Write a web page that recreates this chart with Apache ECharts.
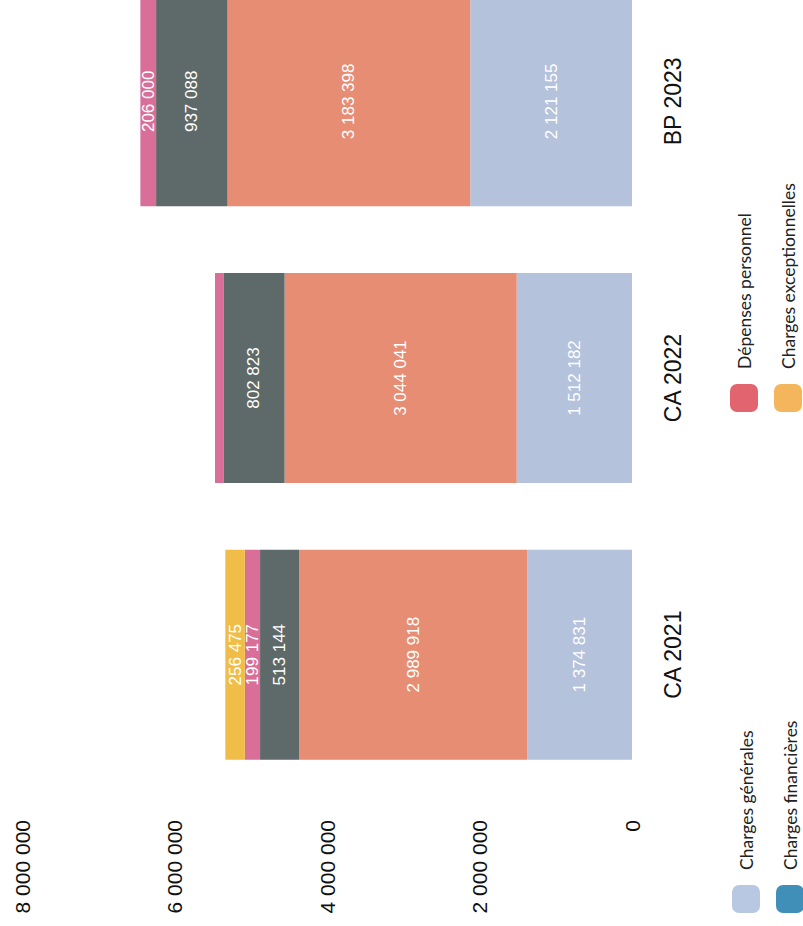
<!DOCTYPE html>
<html lang="fr">
<head>
<meta charset="utf-8">
<title>Dépenses de fonctionnement</title>
<script src="https://cdn.jsdelivr.net/npm/echarts@6/dist/echarts.min.js"></script>
<style>
  html, body { margin: 0; padding: 0; background: #ffffff; }
  #page { position: relative; width: 803px; height: 926px; overflow: hidden; background: #ffffff; }
  /* the chart is laid out landscape and turned a quarter turn anticlockwise */
  #chart {
    position: absolute; left: 0; top: 0;
    width: 926px; height: 803px;
    transform-origin: 0 0;
    transform: translateY(926px) rotate(-90deg);
  }
</style>
</head>
<body>
<div id="page"><div id="chart"></div></div>
<script>
// Exercices
const categories = ['CA 2021', 'CA 2022', 'BP 2023'];

// Montants par chapitre (en euros)
const chargesGenerales       = [1374831, 1512182, 2121155];
const depensesPersonnel      = [2989918, 3044041, 3183398];
const autresCharges          = [513144, 802823, 937088];
const attenuations           = [199177, 110000, 206000];
const attenuationsLabelled   = [true, false, true];
const chargesExceptionnelles = [256475, null, null];
const chargesFinancieres     = [null, null, null];

// Graduations de l'axe des montants
const valueMin = 0;
const valueMax = 8000000;
const valueStep = 2000000;

function fmt(v) {
  return String(Math.round(v)).replace(/\B(?=(\d{3})+(?!\d))/g, ' ');
}

const labelStyle = {
  show: true,
  position: 'inside',
  color: '#ffffff',
  fontFamily: 'Liberation Sans, Arial, sans-serif',
  fontSize: 17,
  formatter: p => (p.value == null ? '' : fmt(p.value))
};

function barSeries(name, values, color, labelled) {
  return {
    name: name,
    type: 'bar',
    stack: 'total',
    barWidth: 210,
    itemStyle: { color: color },
    label: labelStyle,
    data: values.map((v, i) => ({
      value: v,
      label: { show: labelled ? labelled[i] : v != null }
    }))
  };
}

const legendText = {
  color: '#222222',
  fontFamily: 'Lato, "Open Sans", sans-serif',
  fontSize: 17.5,
  padding: [0, 0, 0, 10]
};

// one legend block per entry, two rows of two columns
function legendEntry(name, color, left, top) {
  return {
    orient: 'horizontal', left: left, top: top,
    itemWidth: 28, itemHeight: 28,
    padding: 0,
    textStyle: legendText,
    data: [{ name: name, itemStyle: { color: color } }]
  };
}

const chart = echarts.init(document.getElementById('chart'), null, { renderer: 'svg' });

chart.setOption({
  backgroundColor: '#ffffff',
  animation: false,
  grid: {
    left: 133, top: 22, width: 830, height: 610,
    containLabel: false,
    outerBoundsMode: 'none'
  },
  legend: [
    legendEntry('Charges générales', '#b9c8e2', 13, 732),
    legendEntry('Dépenses personnel', '#e2646e', 514, 730),
    legendEntry('Charges financières', '#3f8fb8', 13, 776),
    legendEntry('Charges exceptionnelles', '#f4b65c', 514, 774)
  ],
  xAxis: {
    type: 'category',
    data: categories,
    axisLine: { show: false },
    axisTick: { show: false },
    axisLabel: {
      margin: 29,
      color: '#111111',
      fontFamily: 'Liberation Sans, Arial, sans-serif',
      fontSize: 23
    }
  },
  yAxis: {
    type: 'value',
    min: valueMin,
    max: valueMax,
    interval: valueStep,
    axisLine: { show: false },
    axisTick: { show: false },
    splitLine: { show: false },
    axisLabel: {
      margin: 27,
      color: '#111111',
      fontFamily: 'Liberation Sans, Arial, sans-serif',
      fontSize: 21,
      formatter: v => fmt(v)
    }
  },
  series: [
    barSeries('Charges générales', chargesGenerales, '#b4c2dc'),
    barSeries('Dépenses personnel', depensesPersonnel, '#e68d74'),
    barSeries('Autres charges de gestion courante', autresCharges, '#5e6a69'),
    barSeries('Atténuations de produits', attenuations, '#d96f98', attenuationsLabelled),
    barSeries('Charges exceptionnelles', chargesExceptionnelles, '#f0be48'),
    barSeries('Charges financières', chargesFinancieres, '#3f8fb8')
  ]
});
</script>
</body>
</html>
